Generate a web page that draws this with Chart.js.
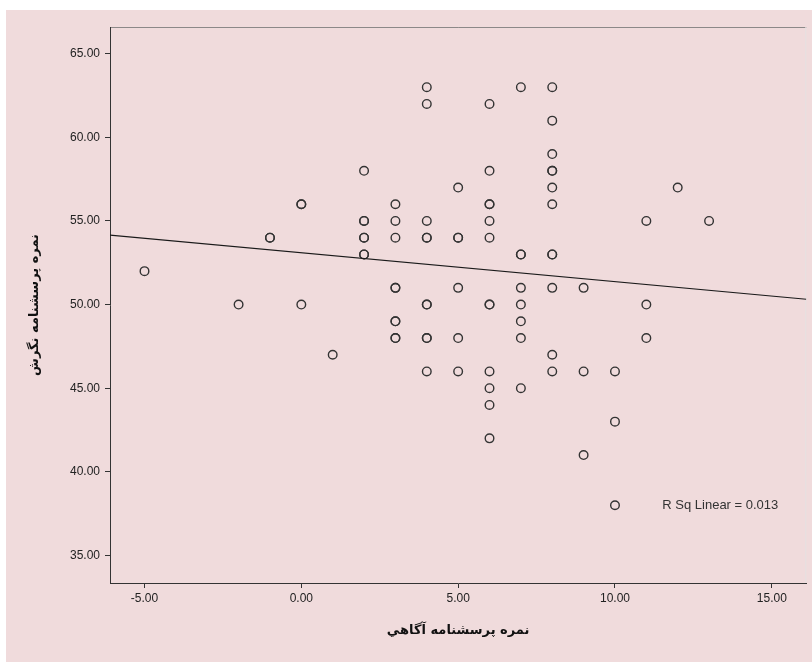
<!DOCTYPE html>
<html>
<head>
<meta charset="utf-8">
<script src="https://cdn.jsdelivr.net/npm/chart.js@4/dist/chart.umd.min.js"></script>
<style>
  body { margin: 0; background: #fff; }
  #wrap { width: 812px; height: 662px; }
</style>
</head>
<body>
<div id="wrap"><canvas id="scatter-chart"></canvas></div>
<script>
// awareness score (x) and attitude score (y), one entry per respondent
var awareness = [-5, -2, -1, -1, 0, 0, 0, 1,
  2, 2, 2, 2, 2, 2, 2,
  3, 3, 3, 3, 3, 3, 3, 3, 3,
  4, 4, 4, 4, 4, 4, 4, 4, 4, 4,
  5, 5, 5, 5, 5, 5,
  6, 6, 6, 6, 6, 6, 6, 6, 6, 6, 6, 6,
  7, 7, 7, 7, 7, 7, 7, 7,
  8, 8, 8, 8, 8, 8, 8, 8, 8, 8, 8, 8,
  9, 9, 9, 10, 10, 10, 11, 11, 11, 12, 13];
var attitude = [52, 50, 54, 54, 56, 56, 50, 47,
  58, 55, 55, 54, 54, 53, 53,
  56, 55, 54, 51, 51, 49, 49, 48, 48,
  63, 62, 55, 54, 54, 50, 50, 48, 48, 46,
  57, 54, 54, 51, 48, 46,
  62, 58, 56, 56, 55, 54, 50, 50, 46, 45, 44, 42,
  63, 53, 53, 51, 50, 49, 48, 45,
  63, 61, 59, 58, 58, 57, 56, 53, 53, 51, 47, 46,
  51, 46, 41, 46, 43, 38, 55, 50, 48, 57, 55];

var xTicks = [-5, 0, 5, 10, 15];
var yTicks = [35, 40, 45, 50, 55, 60, 65];
var xRange = [-6.1, 16.1];
var yRange = [33.35, 66.6];

// fit line
var fitIntercept = 53.1;
var fitSlope = -0.173;
var rSquared = 0.013;

var points = awareness.map(function (x, i) { return {x: x, y: attitude[i]}; });
var fitLine = xRange.map(function (x) { return {x: x, y: fitIntercept + fitSlope * x}; });

var pink = '#f0dbdc';

var backdrop = {
  id: 'backdrop',
  beforeDraw: function (chart) {
    var ctx = chart.ctx, a = chart.chartArea;
    ctx.save();
    ctx.fillStyle = '#ffffff';
    ctx.fillRect(0, 0, chart.width, chart.height);
    ctx.fillStyle = pink;
    ctx.fillRect(6, 10, chart.width - 6, chart.height - 10);
    ctx.strokeStyle = '#8c8888';
    ctx.lineWidth = 1;
    ctx.beginPath();
    ctx.moveTo(a.left, a.top + 0.5);
    ctx.lineTo(a.right, a.top + 0.5);
    ctx.stroke();
    ctx.strokeStyle = '#e6e2e2';
    ctx.beginPath();
    ctx.moveTo(a.right - 0.5, a.top);
    ctx.lineTo(a.right - 0.5, a.bottom);
    ctx.stroke();
    ctx.restore();
  },
  afterDraw: function (chart) {
    var ctx = chart.ctx, a = chart.chartArea;
    ctx.save();
    ctx.font = '13px "Liberation Sans", Arial, sans-serif';
    ctx.fillStyle = '#333333';
    ctx.textBaseline = 'middle';
    ctx.textAlign = 'right';
    ctx.fillText('R Sq Linear = ' + rSquared.toFixed(3), a.right - 28, chart.scales.y.getPixelForValue(38));
    ctx.restore();
  }
};

new Chart(document.getElementById('scatter-chart'), {
  type: 'scatter',
  data: {
    datasets: [
      {
        data: points,
        pointStyle: 'circle',
        pointRadius: 4.3,
        pointBorderWidth: 1.4,
        borderColor: '#333333',
        backgroundColor: 'rgba(0,0,0,0)',
        order: 2
      }, {
        type: 'line',
        data: fitLine,
        borderColor: '#1a1a1a',
        borderWidth: 1.1,
        pointRadius: 0,
        fill: false,
        order: 1
      }
    ]
  },
  options: {
    responsive: true, maintainAspectRatio: false, animation: false,
    events: [],
    layout: {padding: {left: 0, top: 27, right: 4, bottom: 0}},
    plugins: {legend: {display: false}, tooltip: {enabled: false}, title: {display: false}},
    scales: {
      x: {
        type: 'linear', min: xRange[0], max: xRange[1],
        afterFit: function (s) { s.height = 79; },
        afterBuildTicks: function (s) { s.ticks = xTicks.map(function (v) { return {value: v}; }); },
        grid: {drawOnChartArea: false, drawTicks: true, tickLength: 5, color: '#333333'},
        border: {display: true, color: '#333333', width: 1},
        ticks: {
          font: {family: '"Liberation Sans", Arial, sans-serif', size: 12},
          color: '#222222', padding: 3, maxRotation: 0,
          callback: function (v) { return v.toFixed(2); }
        },
        title: {
          display: true, text: 'نمره پرسشنامه آگاهي', color: '#111111',
          font: {family: '"DejaVu Sans", sans-serif', size: 13, weight: 'bold'},
          padding: {bottom: 24}
        }
      },
      y: {
        type: 'linear', min: yRange[0], max: yRange[1],
        afterFit: function (s) { s.width = 110; },
        afterBuildTicks: function (s) { s.ticks = yTicks.map(function (v) { return {value: v}; }); },
        grid: {drawOnChartArea: false, drawTicks: true, tickLength: 5, color: '#333333'},
        border: {display: true, color: '#333333', width: 1},
        ticks: {
          font: {family: '"Liberation Sans", Arial, sans-serif', size: 12},
          color: '#222222', padding: 5,
          callback: function (v) { return v.toFixed(2); }
        },
        title: {
          display: true, text: 'نمره پرسشنامه نگرش', color: '#111111',
          font: {family: '"DejaVu Sans", sans-serif', size: 13, weight: 'bold'},
          padding: {top: 27}
        }
      }
    }
  },
  plugins: [backdrop]
});
</script>
</body>
</html>
